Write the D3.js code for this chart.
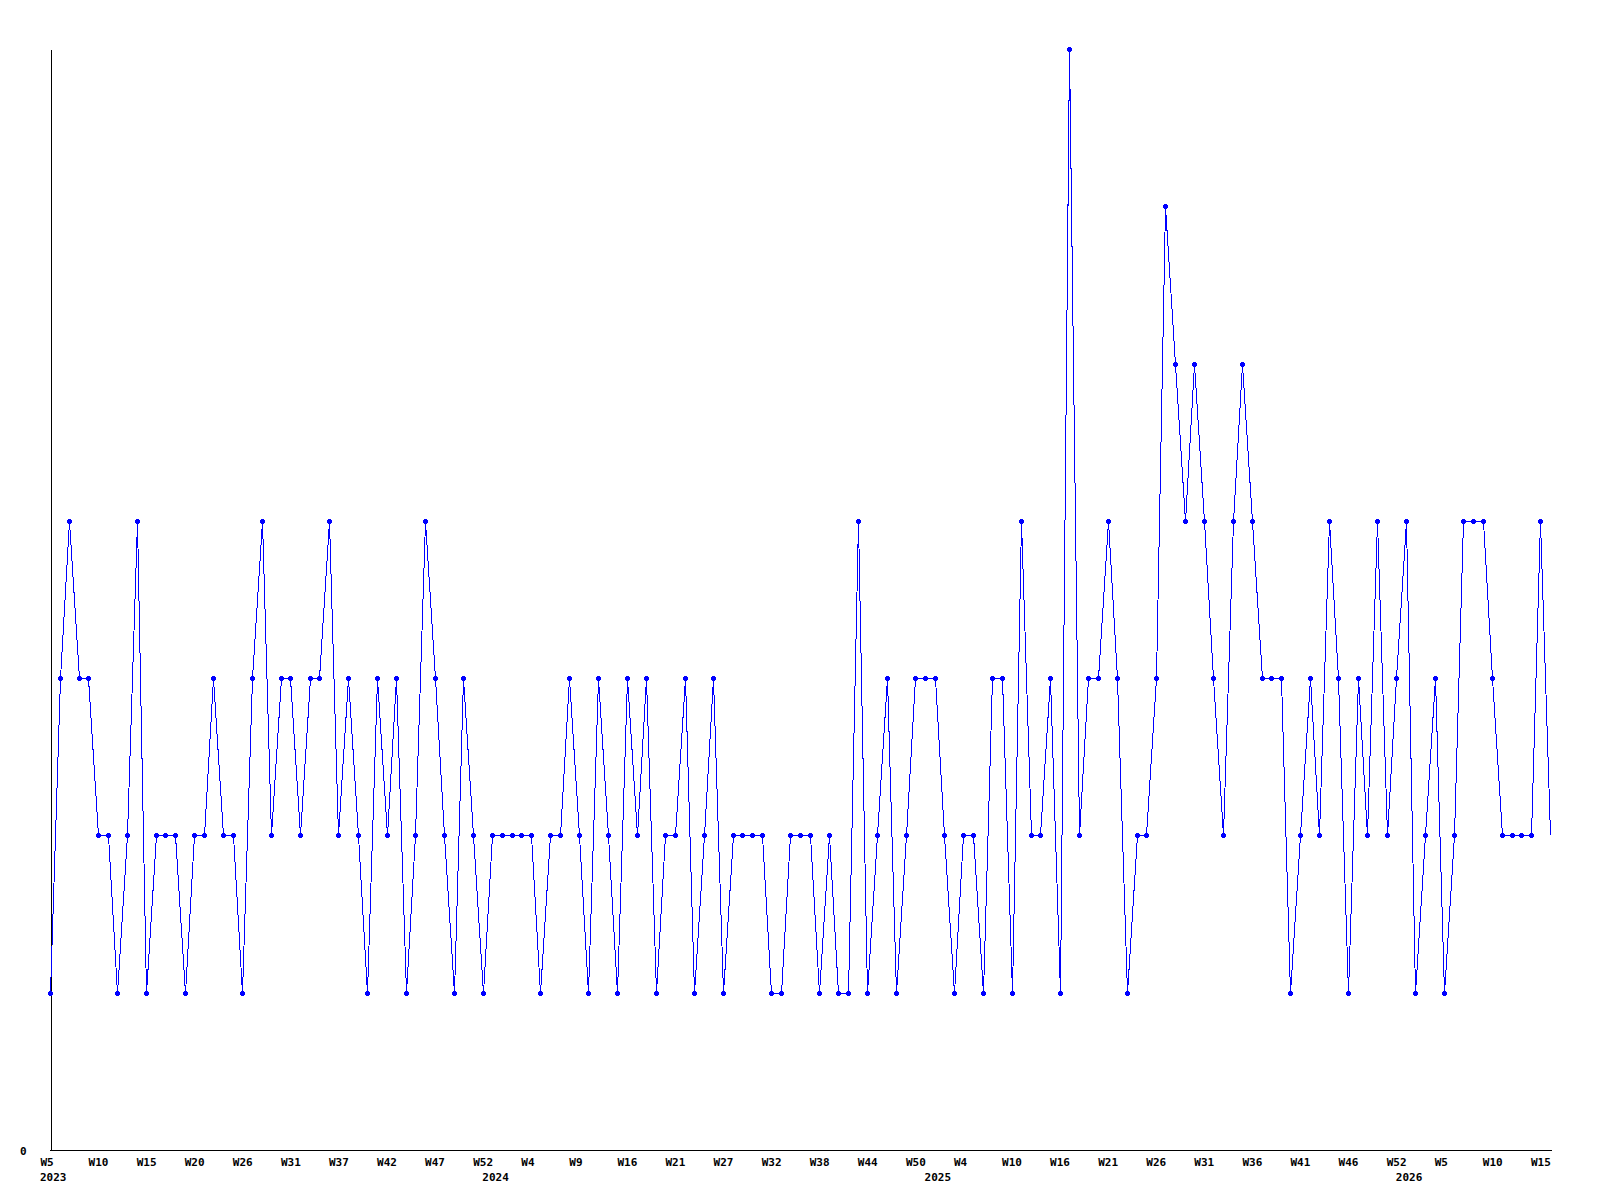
<!DOCTYPE html>
<html>
<head>
<meta charset="utf-8">
<script src="https://cdn.jsdelivr.net/npm/d3@7"></script>
<style>
  html, body { margin: 0; padding: 0; background: #ffffff; }
  svg { display: block; }
  text { font-family: "DejaVu Sans Mono", "Liberation Mono", monospace; font-weight: bold; font-size: 11px; fill: #000; }
</style>
</head>
<body>
<svg id="chart" width="1600" height="1200"></svg>
<script>
// ---- data ----
const years2023 = [5,6,7,8,9,10,11,12,13,14,15,16,17,18,19,20,21,22,24,25,26,27,28,29,30,31,32,33,35,36,37,38,39,40,41,42,43,44,45,46,47,48,49,50,51,52];
const years2024 = [0,1,2,3,4,5,6,7,8,9,10,11,13,15,16,17,18,19,20,21,22,23,25,26,27,28,29,30,31,32,33,34,36,37,38,39,40,42,43,44,45,46,48,49,50,51];
const years2025 = [1,2,3,4,5,6,8,9,10,11,12,14,15,16,17,18,19,20,21,22,23,24,25,26,27,28,29,30,31,32,33,34,35,36,37,38,39,40,41,42,43,44,45,46,47,48,50,51,52];
const years2026 = [1,2,3,4,5,6,7,8,9,10,11,12,13,14,15,16];

const categories = [].concat(
  years2023.map(w => "2023-W" + w),
  years2024.map(w => "2024-W" + w),
  years2025.map(w => "2025-W" + w),
  years2026.map(w => "2026-W" + w)
);

const values = [
  1,3,4,3,3,2,2,1,2,4, 1,2,2,2,1,2,2,3,2,2,
  1,3,4,2,3,3,2,3,3,4, 2,3,2,1,3,2,3,1,2,4,
  3,2,1,3,2,1,2,2,2,2, 2,1,2,2,3,2,1,3,2,1,
  3,2,3,1,2,2,3,1,2,3, 1,2,2,2,2,1,1,2,2,2,
  1,2,1,1,4,1,2,3,1,2, 3,3,3,2,1,2,2,1,3,3,
  1,4,2,2,3,1,7,2,3,3, 4,3,1,2,2,3,6,5,4,5,
  4,3,2,4,5,4,3,3,3,1, 2,3,2,4,3,1,3,2,4,2,
  3,4,1,2,3,1,2,4,4,4, 3,2,2,2,2,4,2
];

const yTickValues = [0];
const xTickEvery = 5;

// ---- chart ----
const svg = d3.select("#chart");
const x = d3.scalePoint().domain(categories).range([50, 1550]);
const y = d3.scaleLinear().domain([0, 7]).range([1150, 49]);

const data = categories.map((c, i) => ({ c, v: values[i] }));

// axes
const xTicks = categories.filter((c, i) => i % xTickEvery === 0);
const gx = svg.append("g")
  .attr("transform", "translate(0.5,1150.5)")
  .call(d3.axisBottom(x).tickValues(xTicks).tickSize(0).tickPadding(8)
    .tickFormat(c => "W" + c.split("-W")[1]));
gx.select(".domain").attr("stroke", "#000").attr("shape-rendering", "crispEdges")
  .attr("d", "M49.5,0H1551");
gx.selectAll("text").attr("text-anchor", "start").attr("dx", -10.5)
  .style("font-family", "DejaVu Sans Mono").style("font-weight", "bold").style("font-size", "11px");

const gy = svg.append("g")
  .attr("transform", "translate(50.5,0.5)")
  .call(d3.axisLeft(y).tickValues(yTickValues).tickSize(0).tickPadding(24).tickFormat(d3.format("d")));
gy.select(".domain").attr("stroke", "#000").attr("shape-rendering", "crispEdges");
gy.selectAll("text").style("font-family", "DejaVu Sans Mono").style("font-weight", "bold").style("font-size", "11px");

// year labels at first week of each year
const seenYears = new Set();
const yearStarts = [];
categories.forEach(c => {
  const yr = c.split("-W")[0];
  if (!seenYears.has(yr)) { seenYears.add(yr); yearStarts.push(c); }
});
svg.append("g").selectAll("text").data(yearStarts).join("text")
  .attr("x", c => x(c) - 10)
  .attr("y", 1181)
  .text(c => c.split("-W")[0]);

// line
const line = d3.line().x(d => Math.round(x(d.c)) + 0.5).y(d => Math.round(y(d.v)) + 0.5);
svg.append("path").datum(data)
  .attr("d", line)
  .attr("fill", "none")
  .attr("stroke", "#0000ff")
  .attr("stroke-width", 1)
  .attr("shape-rendering", "crispEdges");

// markers
const mk = svg.append("g").attr("fill", "#0000ff").attr("shape-rendering", "crispEdges");
const pts = data.slice(0, data.length - 1);
mk.selectAll("rect.h").data(pts).join("rect").attr("class", "h")
  .attr("x", d => Math.round(x(d.c)) - 2).attr("y", d => Math.round(y(d.v)) - 1)
  .attr("width", 5).attr("height", 3);
mk.selectAll("rect.v").data(pts).join("rect").attr("class", "v")
  .attr("x", d => Math.round(x(d.c)) - 1).attr("y", d => Math.round(y(d.v)) - 2)
  .attr("width", 3).attr("height", 5);
</script>
</body>
</html>
